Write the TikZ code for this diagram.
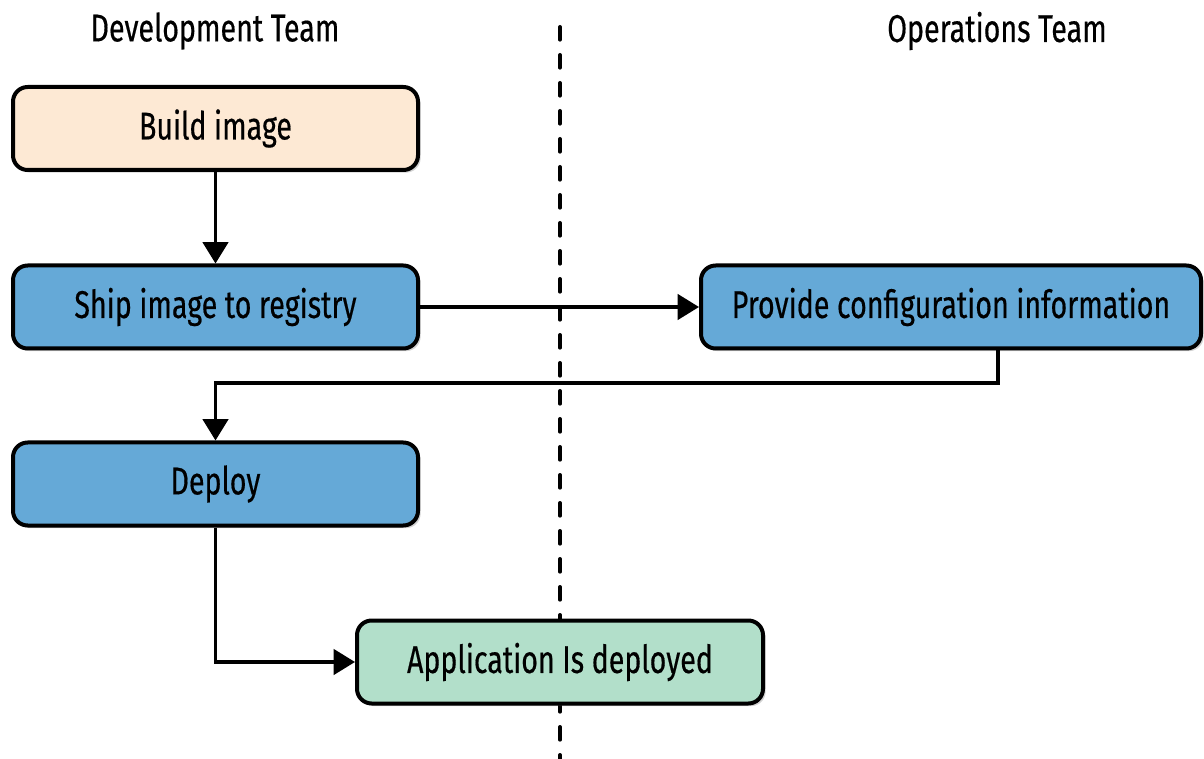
\documentclass[tikz,border=0pt]{standalone}
\usepackage{fontspec}
\setmainfont[FakeStretch=0.74,FakeBold=0.4]{Fira Sans}
\usetikzlibrary{arrows.meta,shadows}
\definecolor{peach}{RGB}{253,233,212}
\definecolor{boxblue}{RGB}{101,169,215}
\definecolor{boxgreen}{RGB}{178,223,202}
\begin{document}
\begin{tikzpicture}[x=0.75pt,y=-0.75pt,
  box/.style={draw=black, line width=3pt, rounded corners=11pt, minimum height=62.25pt,
    inner sep=0pt, font=\fontsize{29}{32}\selectfont,
    drop shadow={shadow xshift=2pt, shadow yshift=-2pt, opacity=0.35, fill=gray}},
  conn/.style={line width=2.5pt, -{Triangle[length=16pt,width=19pt]}},
  title/.style={font=\fontsize{29}{32}\selectfont, inner sep=0pt}]
\useasboundingbox (0,0) rectangle (1204,759);
\node[title] (dev) at (215,31) {Development Team};
\node[title] (ops) at (997,31) {Operations Team};
\coordinate (dtop) at (560,27);
\coordinate (dbot) at (560,759);
\draw[line width=3pt, line cap=round, dash pattern=on 9.5pt off 11.5pt] (dtop) -- (dbot);
\node[box, fill=peach, minimum width=303.75pt] (build) at (215.5,128.5) {Build image};
\node[box, fill=boxblue, minimum width=303.75pt] (ship) at (215.5,307) {Ship image to registry};
\node[box, fill=boxblue, minimum width=375pt] (prov) at (951,307) {Provide configuration information};
\node[box, fill=boxblue, minimum width=303.75pt] (deploy) at (215.5,484) {Deploy};
\node[box, fill=boxgreen, minimum width=304.5pt] (app) at (560,662) {Application Is deployed};
\draw[conn] (build) -- (ship);
\draw[conn] (ship) -- (prov);
\coordinate (bend) at (998,383);
\draw[conn] (prov.south -| bend) -- (bend) -| (deploy.north);
\draw[conn] (deploy.south) |- (app.west);
\end{tikzpicture}
\end{document}
